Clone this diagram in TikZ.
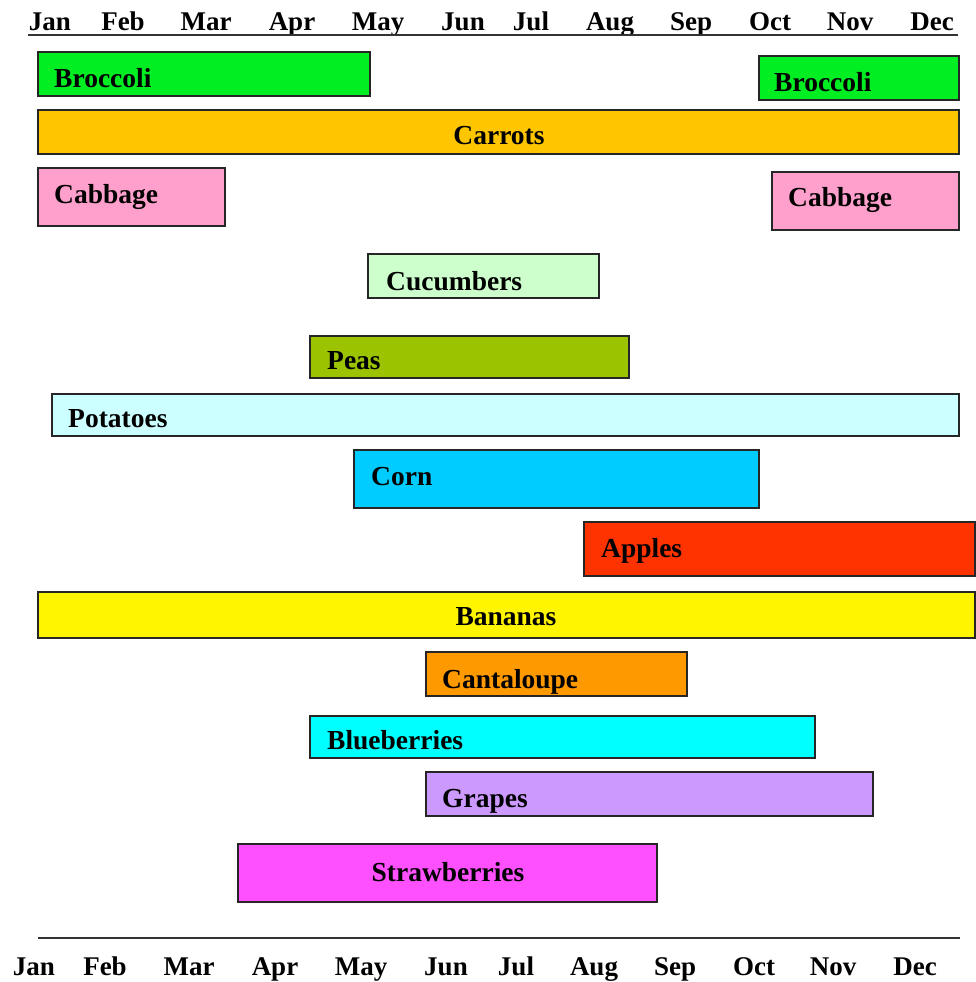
\documentclass[tikz,border=0pt]{standalone}
\usepackage{fontspec}
\setmainfont{Liberation Serif}
\definecolor{cBroc}{HTML}{00EE22}
\definecolor{cCarr}{HTML}{FFC600}
\definecolor{cCabb}{HTML}{FF9FCC}
\definecolor{cCucu}{HTML}{CCFFCC}
\definecolor{cPeas}{HTML}{9CC300}
\definecolor{cPota}{HTML}{CCFFFF}
\definecolor{cCorn}{HTML}{00CCFF}
\definecolor{cAppl}{HTML}{FF3300}
\definecolor{cBana}{HTML}{FFF500}
\definecolor{cCant}{HTML}{FF9900}
\definecolor{cBlue}{HTML}{00FFFF}
\definecolor{cGrap}{HTML}{CC99FF}
\definecolor{cStra}{HTML}{FF50FF}
\tikzset{
  barbox/.style={draw=black!85, line width=1.3pt},
  lbl/.style={inner sep=0pt, font=\fontsize{27.5}{32}\selectfont\bfseries},
  mon/.style={inner sep=0pt, anchor=base, font=\fontsize{27}{32}\selectfont\bfseries},
  axisline/.style={draw=black!80, line width=1.3pt}
}
% name, x1, y1, x2, y2, colour, text, text x, baseline
\newcommand{\vegbar}[9]{%
  \path[barbox, fill=#6] (#2,#3) rectangle (#4,#5);
  \node[lbl, anchor=base west] (#1) at (#8,#9) {#7};
}
\newcommand{\vegbarc}[9]{%
  \path[barbox, fill=#6] (#2,#3) rectangle (#4,#5);
  \node[lbl, anchor=base] (#1) at (#8,#9) {#7};
}
\begin{document}
\begin{tikzpicture}[x=1pt,y=-1pt]
\useasboundingbox[fill=white] (0,0) rectangle (976,982);
% top month row
\foreach \m/\x [count=\i] in {Jan/50,Feb/123,Mar/206,Apr/292,May/378,Jun/463,Jul/531,Aug/610,Sep/691,Oct/770,Nov/850,Dec/932}{
  \node[mon] (t\i) at (\x,31) {\m};
}
\coordinate (tl) at (28,35);
\coordinate (tr) at (958,35);
\draw[axisline] (tl) -- (tr);
% bottom month row
\foreach \m/\x [count=\i] in {Jan/34,Feb/105,Mar/189,Apr/275,May/361,Jun/446,Jul/516,Aug/594,Sep/675,Oct/754,Nov/833,Dec/915}{
  \node[mon] (b\i) at (\x,975) {\m};
}
\coordinate (bl) at (38,938);
\coordinate (br) at (960,938);
\draw[axisline] (bl) -- (br);
% bars
\vegbar{broc1}{38}{52}{370}{96}{cBroc}{Broccoli}{54}{87}
\vegbar{broc2}{759}{56}{959}{100}{cBroc}{Broccoli}{774}{91}
\vegbarc{carr}{38}{110}{959}{154}{cCarr}{Carrots}{499}{144}
\vegbar{cabb1}{38}{168}{225}{226}{cCabb}{Cabbage}{54}{203}
\vegbar{cabb2}{772}{172}{959}{230}{cCabb}{Cabbage}{788}{206}
\vegbar{cucu}{368}{254}{599}{298}{cCucu}{Cucumbers}{386}{290}
\vegbar{peas}{310}{336}{629}{378}{cPeas}{Peas}{327}{369}
\vegbar{pota}{52}{394}{959}{436}{cPota}{Potatoes}{68}{427}
\vegbar{corn}{354}{450}{759}{508}{cCorn}{Corn}{371}{485}
\vegbar{appl}{584}{522}{975}{576}{cAppl}{Apples}{601}{557}
\vegbarc{bana}{38}{592}{975}{638}{cBana}{Bananas}{506}{625}
\vegbar{cant}{426}{652}{687}{696}{cCant}{Cantaloupe}{442}{688}
\vegbar{blue}{310}{716}{815}{758}{cBlue}{Blueberries}{327}{749}
\vegbar{grap}{426}{772}{873}{816}{cGrap}{Grapes}{442}{807}
\vegbarc{stra}{238}{844}{657}{902}{cStra}{Strawberries}{448}{881}
\end{tikzpicture}
\end{document}
